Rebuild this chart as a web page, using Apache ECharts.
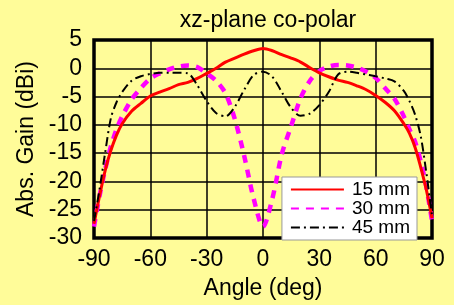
<!DOCTYPE html>
<html><head><meta charset="utf-8">
<script src="https://cdn.jsdelivr.net/npm/echarts@6/dist/echarts.min.js"></script>
<style>html,body{margin:0;padding:0;background:#FFFC99;}#c{width:454px;height:305px;}</style>
</head><body><div id="c"></div>
<script>
const angles = [-90,-87,-84,-81,-78,-75,-70,-65,-60,-55,-50,-45,-40,-35,-30,-25,-20,-15,-10,-5,0,5,10,15,20,25,30,35,40,45,50,55,60,65,70,75,78,81,84,87,90];
const gain15 = [-27.5,-22.5,-18,-14.5,-11.8,-9.8,-7.6,-6.2,-4.9,-4.2,-3.6,-2.9,-2.5,-1.8,-0.9,0.0,1.1,1.8,2.5,3.1,3.5,3.1,2.4,1.8,1.1,0.1,-0.8,-1.5,-2.1,-2.5,-3.1,-3.8,-4.8,-6.0,-7.5,-9.8,-11.5,-14,-17.5,-21.5,-26.5];
const gain30 = [-28,-22.5,-17.8,-13.8,-10.8,-8.5,-5.5,-3.5,-1.8,-0.9,-0.2,0.3,0.5,0.2,-0.9,-2.2,-4.4,-9,-15.5,-23,-28,-23,-15.2,-10.2,-5.3,-2.2,-0.5,0.3,0.6,0.5,0.1,-0.6,-1.7,-3.5,-5.4,-8.5,-10.8,-13,-16.5,-21,-27];
const gain45 = [-27,-21.3,-14.8,-8.8,-6,-4.2,-2.2,-1.4,-1.0,-0.8,-0.8,-0.8,-0.9,-3.0,-5.8,-7.9,-8.5,-6.8,-3.8,-1.2,-0.6,-1.5,-4.2,-7.0,-8.4,-8.0,-6.5,-4.2,-1.1,-0.6,-0.8,-1.1,-1.4,-1.8,-2.3,-4.0,-5.8,-8.2,-12,-18.5,-26];
const seriesNames = ['15 mm','30 mm','45 mm'];
const xTicks = [-90,-60,-30,0,30,60,90];
const yTicks = [-30,-25,-20,-15,-10,-5,0,5];

const pair = arr => angles.map((a,i)=>[a,arr[i]]);
const font = '"Liberation Sans", Arial, sans-serif';
const chart = echarts.init(document.getElementById('c'));
chart.setOption({
  backgroundColor: '#FFFC99',
  animation: false,
  title: {text: 'xz-plane co-polar', left: 263, textAlign: 'center', top: 4,
    textStyle: {fontFamily: font, fontSize: 23, fontWeight: 'normal', color: '#000'}},
  grid: {left: 94, right: 22, top: 40, bottom: 63, show: true, borderColor: '#000', borderWidth: 3.5, backgroundColor: 'transparent'},
  xAxis: {type: 'value', min: xTicks[0], max: xTicks[xTicks.length-1], interval: 30,
    name: 'Angle (deg)', nameLocation: 'middle', nameGap: 39,
    nameTextStyle: {fontFamily: font, fontSize: 23, color: '#000'},
    axisLine: {show: false}, axisTick: {show: false},
    axisLabel: {fontFamily: font, fontSize: 23, color: '#000', margin: 10},
    splitLine: {show: true, lineStyle: {color: '#000', width: 1.5}}},
  yAxis: {type: 'value', min: yTicks[0], max: yTicks[yTicks.length-1], interval: 5,
    name: 'Abs. Gain (dBi)', nameLocation: 'middle', nameGap: 55,
    nameTextStyle: {fontFamily: font, fontSize: 23, color: '#000'},
    axisLine: {show: false}, axisTick: {show: false},
    axisLabel: {fontFamily: font, fontSize: 23, color: '#000', margin: 12},
    splitLine: {show: true, lineStyle: {color: '#000', width: 1.5}}},
  legend: {right: 37, top: 177, orient: 'vertical', backgroundColor: '#fff', borderColor: '#999', borderWidth: 1,
    padding: [3, 7, 3, 8], itemWidth: 53, itemHeight: 19, itemGap: 0,
    itemStyle: {opacity: 0},
    textStyle: {fontFamily: font, fontSize: 19, lineHeight: 19, color: '#000', padding: [0,0,0,3]},
    data: seriesNames},
  series: [
    {name: seriesNames[0], type: 'line', data: pair(gain15), symbol: 'none', smooth: 0.3,
      lineStyle: {color: '#FF0000', width: 3}, itemStyle: {color: '#FF0000'}, z: 3},
    {name: seriesNames[1], type: 'line', data: pair(gain30), symbol: 'none', smooth: 0.3,
      lineStyle: {color: '#FF00FF', width: 4.5, type: [8, 7]}, itemStyle: {color: '#FF00FF'}, z: 2},
    {name: seriesNames[2], type: 'line', data: pair(gain45), symbol: 'none', smooth: 0.3,
      lineStyle: {color: '#000', width: 2, type: [9, 4, 2, 4]}, itemStyle: {color: '#000'}, z: 4}
  ]
});
</script></body></html>
